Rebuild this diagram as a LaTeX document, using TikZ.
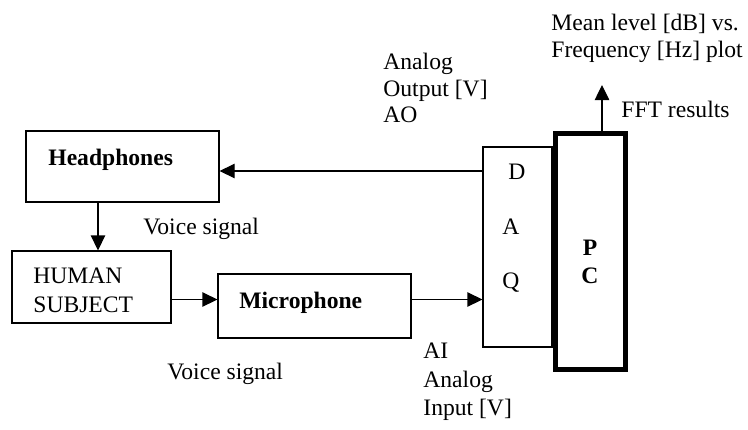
\documentclass[tikz,border=0pt]{standalone}
\usepackage{fontspec}
\setmainfont{Liberation Serif}
\usetikzlibrary{arrows.meta,calc}
\begin{document}
\begin{tikzpicture}[x=0.5pt,y=-0.5pt,
  box/.style={draw,line width=0.6pt,inner sep=0pt},
  pcbox/.style={draw,line width=2.35pt,inner sep=0pt},
  arr/.style={line width=0.6pt,-{Triangle[length=7.5pt,width=7.2pt]}},
  txt/.style={anchor=base west,inner sep=0pt,font=\fontsize{11.8}{14}\selectfont},
  btxt/.style={txt,font=\fontsize{11.8}{14}\selectfont\bfseries},
  ctxt/.style={anchor=base,inner sep=0pt,font=\fontsize{11.8}{14}\selectfont}]
\useasboundingbox (0,0) rectangle (748,429);
% boxes
\node[box,minimum width=96.5pt,minimum height=35.5pt] (hp) at (122.5,166.5) {};
\node[box,minimum width=79.5pt,minimum height=36pt] (hs) at (91.5,287) {};
\node[box,minimum width=96.5pt,minimum height=32pt] (mic) at (314.5,306) {};
\node[box,minimum width=34.5pt,minimum height=100pt] (daq) at (517.5,247) {};
\node[pcbox,minimum width=35pt,minimum height=118pt] (pc) at (590.5,251.5) {};
% box texts
\node[btxt] (thp) at (48,165) {Headphones};
\node[txt] (ths1) at (33,283) {HUMAN};
\node[txt] (ths2) at (33,312) {SUBJECT};
\node[btxt] (tmic) at (239,308) {Microphone};
\node[ctxt] (td) at (517,179) {D};
\node[ctxt] (ta) at (511,234) {A};
\node[ctxt] (tq) at (511,288) {Q};
\node[ctxt,font=\fontsize{11.8}{14}\selectfont\bfseries] (tp) at (590,255) {P};
\node[ctxt,font=\fontsize{11.8}{14}\selectfont\bfseries] (tc) at (590,283) {C};
% labels
\node[txt] (vs1) at (143,234) {Voice signal};
\node[txt] (vs2) at (167,379) {Voice signal};
\node[txt] (ao1) at (383,69) {Analog};
\node[txt] (ao2) at (383,96) {Output [V]};
\node[txt] (ao3) at (383,122) {AO};
\node[txt] (ai1) at (423,358) {AI};
\node[txt] (ai2) at (423,387) {Analog};
\node[txt] (ai3) at (423,415) {Input [V]};
\node[txt] (ml1) at (551,30) {Mean level [dB] vs.};
\node[txt] (ml2) at (551,57) {Frequency [Hz] plot};
\node[txt] (fft) at (621,117) {FFT results};
% connectors
\coordinate (aoy) at (483,171);
\draw[arr] (daq.west |- aoy) -- (hp.east |- aoy);
\coordinate (vx) at (98,0);
\draw[arr] (hp.south -| vx) -- (hs.north -| vx);
\coordinate (my) at (0,299.5);
\draw[arr] (hs.east |- my) -- (mic.west |- my);
\draw[arr] (mic.east |- my) -- (daq.west |- my);
\coordinate (ffttip) at (602,85);
\draw[arr] (pc.north -| ffttip) -- (ffttip);
\end{tikzpicture}
\end{document}
